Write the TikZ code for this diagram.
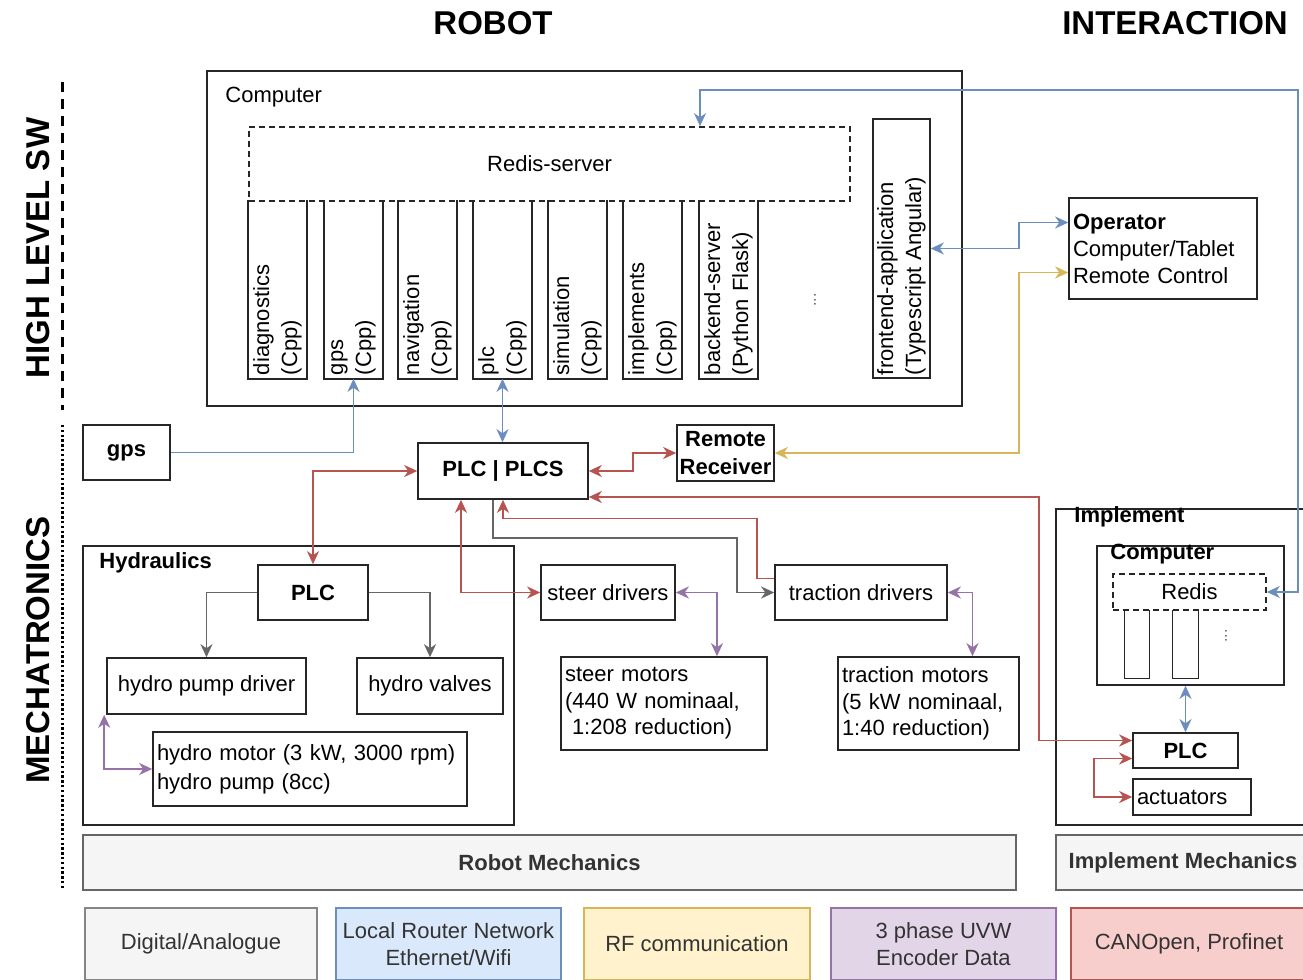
\documentclass[tikz,border=0pt]{standalone}
\usepackage{fontspec}
\setmainfont{Liberation Sans}
\usetikzlibrary{arrows.meta}
\definecolor{cBlue}{HTML}{6C8EBF}
\definecolor{cBlueFill}{HTML}{DAE8FC}
\definecolor{cYellow}{HTML}{D6B656}
\definecolor{cYellowFill}{HTML}{FFF2CC}
\definecolor{cPurple}{HTML}{9673A6}
\definecolor{cPurpleFill}{HTML}{E1D5E7}
\definecolor{cRed}{HTML}{B85450}
\definecolor{cRedFill}{HTML}{F8CECC}
\definecolor{cGrayLine}{HTML}{666666}
\definecolor{cGrayFill}{HTML}{F5F5F5}
\definecolor{cText}{HTML}{333333}
\begin{document}
\begin{tikzpicture}[x=0.5pt, y=-0.5pt, >={Stealth[length=6.5pt,width=6pt,inset=2pt]},
    box/.style={draw=black!85, line width=0.8pt, inner sep=0pt, align=center, font=\fontsize{11}{13.5}\selectfont},
    bold box/.style={box, font=\bfseries\fontsize{11}{13.5}\selectfont},
    text box/.style={box, align=left, inner xsep=2pt},
    module/.style={rotate=90, inner xsep=1.5pt, inner ysep=0pt, minimum width=88.5pt, minimum height=28.5pt, text width=85.5pt, align=left, line width=0.8pt, font=\fontsize{11}{14}\selectfont},
    redis box/.style={box, dash pattern=on 3pt off 2pt},
    title/.style={font=\bfseries\fontsize{16.5}{20}\selectfont},
    section/.style={title, rotate=90},
    box label/.style={anchor=west, inner sep=0pt, font=\bfseries\fontsize{11}{13}\selectfont},
    mech box/.style={box, fill=cGrayFill, draw=cGrayLine, text=cText, minimum height=27.5pt, font=\bfseries\fontsize{11}{13.5}\selectfont},
    legend box/.style={box, text=cText, minimum height=36pt},
    link/.style={line width=0.9pt},
    blue link/.style={link, draw=cBlue},
    yellow link/.style={link, draw=cYellow},
    red link/.style={link, draw=cRed},
    purple link/.style={link, draw=cPurple},
    gray link/.style={link, draw=cGrayLine}]
    \useasboundingbox (0,0) rectangle (1303,980);
    \clip (0,0) rectangle (1303,980);
    \fill[white] (0,0) rectangle (1303,980);

    \node[title] at (493, 23) (trobot) {ROBOT};
    \node[title] at (1175, 23) (tinter) {INTERACTION};
    \node[section] at (38, 248) (lhigh) {HIGH LEVEL SW};
    \node[section] at (38, 650) (lmech) {MECHATRONICS};
    \coordinate (sep1) at (62, 82);
    \coordinate (sep2) at (62, 410);
    \coordinate (sep3) at (62, 425);
    \coordinate (sep4) at (62, 890);
    \draw[line width=1.5pt, dash pattern=on 5pt off 3.5pt] (sep1) -- (sep2);
    \draw[line width=1.5pt, dash pattern=on 1.2pt off 1.2pt] (sep3) -- (sep4);

    \node[box, minimum width=377.5pt, minimum height=167.5pt] at (584.5, 238.5) (comp) {};
    \node[box label, font=\fontsize{11}{13}\selectfont] at (225, 97) (lcomp) {Computer};
    \node[redis box, minimum width=300.5pt, minimum height=37pt] at (549.5, 164) (redis) {Redis-server};
    \node[module] at (277.5, 289.5) (diag) {diagnostics\\(Cpp)};
    \node[module] at (353.5, 289.5) (gpsm) {gps\\(Cpp)};
    \node[module] at (427.5, 289.5) (nav) {navigation\\(Cpp)};
    \node[module] at (502.5, 289.5) (plcm) {plc\\(Cpp)};
    \node[module] at (577.5, 289.5) (sim) {simulation\\(Cpp)};
    \node[module] at (652.5, 289.5) (impl) {implements\\(Cpp)};
    \node[module] at (728.5, 289.5) (back) {backend-server\\(Python Flask)};
    \foreach \m in {diag,gpsm,nav,plcm,sim,impl,back}
        \draw[line width=0.8pt, draw=black!85] (\m.north east) -- (\m.north west) -- (\m.south west) -- (\m.south east);
    \node[rotate=90, text=black!60, font=\fontsize{8}{8}\selectfont] at (815, 300) (cdots) {...};
    \node[module, draw=black!85, minimum width=129.5pt, text width=126.5pt] at (901.5, 248.5) (front) {frontend-application\\(Typescript Angular)};

    \node[text box, minimum width=94pt, text width=90pt, minimum height=50.5pt] at (1163, 248.5) (opr) {\textbf{Operator}\\Computer/Tablet\\Remote Control};

    \node[bold box, minimum width=43.5pt, minimum height=27.5pt] at (126.5, 452.5) (gps) {gps};
    \node[bold box, minimum width=85pt, minimum height=28pt] at (503, 471) (plcs) {PLC | PLCS};
    \node[bold box, minimum width=48.5pt, minimum height=28pt, font=\bfseries\fontsize{11}{14}\selectfont] at (725.5, 453) (rr) {Remote\\Receiver};

    \node[box, minimum width=215.5pt, minimum height=139.5pt] at (298.5, 685.5) (hyd) {};
    \node[box label] at (99, 563) (lhyd) {Hydraulics};
    \node[bold box, minimum width=55pt, minimum height=27.5pt] at (313, 592.5) (hplc) {PLC};
    \node[box, minimum width=99.5pt, minimum height=28pt] at (206.5, 686) (hpd) {hydro pump driver};
    \node[box, minimum width=73pt, minimum height=28pt] at (430, 686) (hval) {hydro valves};
    \node[text box, minimum width=157pt, text width=153pt, minimum height=37pt, font=\fontsize{11}{14.5}\selectfont] at (310, 769) (hmot) {hydro motor (3 kW, 3000 rpm)\\hydro pump (8cc)};

    \node[box, minimum width=67pt, minimum height=27.5pt] at (608, 592.5) (sdr) {steer drivers};
    \node[box, minimum width=86pt, minimum height=27.5pt] at (861, 592.5) (tdr) {traction drivers};
    \node[text box, minimum width=103pt, text width=99pt, minimum height=46.5pt, font=\fontsize{11}{13.3}\selectfont] at (664, 703.5) (smot) {steer motors\\(440 W nominaal,\\\hspace{3.5pt}1:208 reduction)};
    \node[text box, minimum width=90.5pt, text width=86.5pt, minimum height=46.5pt, font=\fontsize{11}{13.3}\selectfont] at (928.5, 703.5) (tmot) {traction motors\\(5 kW nominaal,\\1:40 reduction)};

    \node[box, minimum width=127pt, minimum height=158pt] at (1183, 667) (imp) {};
    \node[box label] at (1074, 517) (limp) {Implement};
    \node[box, minimum width=93.5pt, minimum height=69.5pt] at (1190.5, 615.5) (icomp) {};
    \node[box label] at (1110, 554) (licomp) {Computer};
    \node[redis box, minimum width=76.5pt, minimum height=18pt] at (1189.5, 592) (iredis) {Redis};
    \node[inner sep=0pt, minimum width=12pt, minimum height=34pt] at (1137, 644) (im1) {};
    \node[inner sep=0pt, minimum width=12.5pt, minimum height=34pt] at (1185.5, 644) (im2) {};
    \foreach \m in {im1,im2}
        \draw[line width=0.8pt, draw=black!85] (\m.north west) -- (\m.south west) -- (\m.south east) -- (\m.north east);
    \node[rotate=90, text=black!60, font=\fontsize{8}{8}\selectfont] at (1226, 636) (idots) {...};
    \node[bold box, minimum width=52.5pt, minimum height=17.5pt] at (1185.5, 750.5) (iplc) {PLC};
    \node[text box, minimum width=59pt, text width=55pt, minimum height=18pt] at (1192, 797) (act) {actuators};

    \node[mech box, minimum width=466.5pt] at (549.5, 862.5) (rmech) {Robot Mechanics};
    \node[mech box, minimum width=127pt] at (1183, 862.5) (imech) {Implement Mechanics};

    \node[legend box, fill=cGrayFill, draw=cGrayLine!80, minimum width=116pt] at (201, 944) (lgdig) {Digital/Analogue};
    \node[legend box, fill=cBlueFill, draw=cBlue, minimum width=112.5pt] at (448.5, 944) (lglan) {Local Router Network\\Ethernet/Wifi};
    \node[legend box, fill=cYellowFill, draw=cYellow, minimum width=113pt] at (697, 944) (lgrf) {RF communication};
    \node[legend box, fill=cPurpleFill, draw=cPurple, minimum width=112.5pt] at (943.5, 944) (lgenc) {3 phase UVW\\Encoder Data};
    \node[legend box, fill=cRedFill, draw=cRed, minimum width=118pt] at (1189, 944) (lgcan) {CANOpen, Profinet};

    \coordinate (busl) at (700, 90);
    \coordinate (busr) at (1298, 90);
    \draw[blue link, ->] (gps.east) -| (gpsm.west);
    \draw[blue link, <->] (plcm.west) -- (plcm.west |- plcs.north);
    \draw[blue link, <->] (redis.north -| busl) -- (busl) -- (busr) |- (iredis.east);
    \draw[blue link, <->] (front.south) -- ++(88,0) |- ([yshift=13pt]opr.west);
    \draw[blue link, <->] (iplc.north |- icomp.south) -- (iplc.north);
    \draw[yellow link, <->] (rr.east) -- ++(244,0) |- ([yshift=-12pt]opr.west);

    \draw[red link, <->] (plcs.east) -- ++(44,0) |- (rr.west);
    \draw[red link, <->] ([yshift=-13pt]plcs.east) -- ++(450,0) |- ([yshift=5pt]iplc.west);
    \draw[red link, ->] ([yshift=7pt]tdr.west) -- ++(-17,0) -- ++(0,-60) -| (plcs.south);
    \draw[red link, <->] ([xshift=-21pt]plcs.south) |- (sdr.west);
    \draw[red link, <->] (plcs.west) -| (hplc.north);
    \draw[red link, <->] ([yshift=-4pt]iplc.west) -- ++(-38,0) |- (act.west);

    \draw[gray link, ->] ([xshift=-5pt]plcs.south) -- ++(0,38) -- ++(244,0) |- (tdr.west);
    \draw[gray link, ->] (hplc.west) -| (hpd.north);
    \draw[gray link, ->] (hplc.east) -| (hval.north);

    \draw[purple link, <->] (sdr.east) -| ([xshift=26.5pt]smot.north);
    \draw[purple link, <->] (tdr.east) -| ([xshift=22pt]tmot.north);
    \draw[purple link, <->] ([xshift=-1pt]hpd.south west) |- (hmot.west);
\end{tikzpicture}
\end{document}
